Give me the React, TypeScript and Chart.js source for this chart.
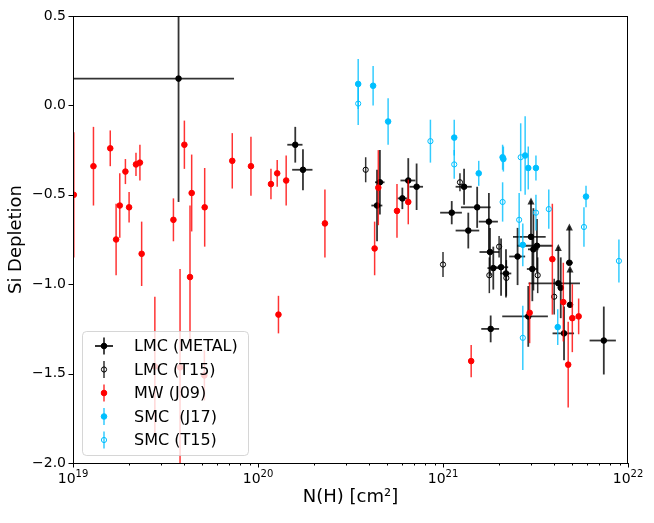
import { useEffect, useRef } from "react";
import { Chart, registerables } from "chart.js";

Chart.register(...registerables);

// N(H) in cm^-2, Si depletion (dex), symmetric errors
const LMC_X = [3.72e19, 1.59e20, 1.75e20, 4.56e20, 4.4e20, 6.03e20, 6.49e20, 7.2e20, 1.3e21, 1.115e21, 1.53e21, 1.77e21, 1.37e21, 1.795e21, 1.87e21, 2.06e21, 2.19e21, 2.53e21, 2.99e21, 3.08e21, 3.22e21, 3.04e21, 4.2e21, 4.33e21, 4.82e21, 4.86e21, 4.51e21, 2.89e21, 1.81e21, 7.4e21];
const LMC_Y = [0.15, -0.22, -0.36, -0.43, -0.56, -0.52, -0.42, -0.455, -0.455, -0.6, -0.57, -0.65, -0.7, -0.82, -0.91, -0.905, -0.94, -0.845, -0.735, -0.805, -0.785, -0.915, -0.995, -1.02, -0.88, -1.115, -1.275, -1.18, -1.25, -1.315];
const LMC_YERR = [0.69, 0.1, 0.115, 0.18, 0.2, 0.06, 0.125, 0.13, 0.1, 0.065, 0.115, 0.16, 0.1, 0.135, 0.12, 0.16, 0.135, 0.16, 0.22, 0.23, 0.15, 0.18, 0.22, 0.17, 0.22, 0.22, 0.15, 0.17, 0.075, 0.19];
const LMC_XERR = [3.7e19, 0.15e20, 0.22e20, 0.27e20, 0.3e20, 0.35e20, 0.6e20, 0.6e20, 0.13e21, 0.15e21, 0.28e21, 0.21e21, 0.2e21, 0.22e21, 0.13e21, 0.19e21, 0.15e21, 0.25e21, 0.6e21, 0.2e21, 0.7e21, 0.2e21, 1.3e21, 0.15e21, 0.2e21, 0.1e21, 0.6e21, 0.8e21, 0.2e21, 1.2e21];
// 1 = lower limit (arrow up)
const LMC_LIM = [0, 0, 0, 0, 0, 0, 0, 0, 0, 0, 0, 0, 0, 0, 0, 0, 0, 0, 1, 0, 0, 0, 1, 0, 1, 1, 0, 0, 0, 0];

const LMCT_X = [3.82e20, 1.235e21, 1.0e21, 2.01e21, 1.78e21, 2.2e21, 3.25e21, 3.99e21];
const LMCT_Y = [-0.36, -0.43, -0.89, -0.79, -0.95, -0.965, -0.95, -1.07];
const LMCT_YERR = [0.07, 0.05, 0.07, 0.06, 0.1, 0.1, 0.1, 0.1];

const MW_X = [1.01e19, 1.29e19, 1.59e19, 1.71e19, 1.79e19, 1.92e19, 2.01e19, 2.19e19, 2.3e19, 2.35e19, 3.49e19, 4.0e19, 4.38e19, 4.29e19, 5.15e19, 7.26e19, 9.16e19, 1.175e20, 1.27e20, 1.42e20, 2.3e20, 1.29e20, 3.79e19, 5.13e19, 2.77e19, 4.47e20, 4.27e20, 5.64e20, 6.49e20, 3.9e21, 1.42e21, 2.94e21, 4.47e21, 5.0e21, 5.41e21, 4.75e21];
const MW_Y = [-0.5, -0.34, -0.24, -0.75, -0.56, -0.37, -0.57, -0.33, -0.32, -0.83, -0.64, -0.22, -0.49, -0.96, -0.57, -0.31, -0.34, -0.44, -0.38, -0.42, -0.66, -1.17, -1.465, -1.51, -1.46, -0.46, -0.8, -0.59, -0.54, -0.86, -1.43, -1.16, -1.1, -1.19, -1.18, -1.45];
const MW_YERR = [0.35, 0.22, 0.1, 0.2, 0.18, 0.07, 0.085, 0.065, 0.1, 0.18, 0.12, 0.135, 0.215, 0.4, 0.22, 0.155, 0.165, 0.085, 0.075, 0.14, 0.19, 0.105, 0.55, 0.14, 0.39, 0.21, 0.15, 0.15, 0.125, 0.31, 0.09, 0.17, 0.22, 0.19, 0.1, 0.24];

const SMC_X = [3.48e20, 4.19e20, 5.05e20, 1.15e21, 1.56e21, 2.1e21, 2.12e21, 2.78e21, 2.89e21, 3.18e21, 5.93e21, 2.7e21, 4.17e21];
const SMC_Y = [0.12, 0.11, -0.09, -0.18, -0.38, -0.29, -0.3, -0.28, -0.35, -0.35, -0.51, -0.78, -1.24];
const SMC_YERR = [0.14, 0.11, 0.13, 0.1, 0.07, 0.07, 0.07, 0.22, 0.12, 0.07, 0.06, 0.12, 0.1];

const SMCT_X = [3.48e20, 8.55e20, 1.15e21, 2.1e21, 2.58e21, 2.63e21, 3.18e21, 3.73e21, 5.78e21, 8.93e21, 2.7e21];
const SMCT_Y = [0.01, -0.2, -0.33, -0.54, -0.64, -0.29, -0.6, -0.58, -0.68, -0.87, -1.3];
const SMCT_YERR = [0.12, 0.12, 0.08, 0.11, 0.15, 0.19, 0.1, 0.11, 0.11, 0.12, 0.18];

const DECADES = [19, 20, 21, 22];

const FONT = "DejaVu Sans";

function points(xs: number[], ys: number[], yErr: number[], xErr?: number[], lim?: number[]) {
  return xs.map((x, i) => ({ x, y: ys[i], yErr: yErr[i], xErr: xErr ? xErr[i] : 0, lim: lim ? lim[i] : 0 }));
}

function isDecade(v: number) {
  const e = Math.round(Math.log10(v));
  return Math.abs(v / Math.pow(10, e) - 1) < 1e-6;
}

const xTicks: number[] = [];
DECADES.forEach((e, i) => {
  if (i === DECADES.length - 1) xTicks.push(Math.pow(10, e));
  else for (let m = 1; m < 10; m++) xTicks.push(m * Math.pow(10, e));
});

const errorBars = {
  id: "errorBars",
  beforeDatasetDraw(chart: any, args: any) {
    const ds = chart.data.datasets[args.index];
    const xs = chart.scales.x;
    const ys = chart.scales.y;
    const { ctx, chartArea: a } = chart;
    ctx.save();
    ctx.beginPath();
    ctx.rect(a.left, a.top, a.right - a.left, a.bottom - a.top);
    ctx.clip();
    ctx.strokeStyle = ds.errColor;
    ctx.fillStyle = ds.errColor;
    ctx.lineWidth = ds.errWidth;
    for (const p of ds.data) {
      const px = xs.getPixelForValue(p.x);
      const py = ys.getPixelForValue(p.y);
      if (p.lim) {
        const ty = ys.getPixelForValue(p.y + p.yErr);
        ctx.beginPath();
        ctx.moveTo(px, py);
        ctx.lineTo(px, ty + 3);
        ctx.stroke();
        ctx.beginPath();
        ctx.moveTo(px, ty);
        ctx.lineTo(px - 3.5, ty + 7);
        ctx.lineTo(px + 3.5, ty + 7);
        ctx.closePath();
        ctx.fill();
      } else if (p.yErr) {
        ctx.beginPath();
        ctx.moveTo(px, ys.getPixelForValue(p.y - p.yErr));
        ctx.lineTo(px, ys.getPixelForValue(p.y + p.yErr));
        ctx.stroke();
      }
      if (p.xErr) {
        ctx.beginPath();
        ctx.moveTo(xs.getPixelForValue(Math.max(p.x - p.xErr, 1e17)), py);
        ctx.lineTo(xs.getPixelForValue(p.x + p.xErr), py);
        ctx.stroke();
      }
    }
    ctx.restore();
  },
};

const frameAndLegend = {
  id: "frameAndLegend",
  afterDraw(chart: any) {
    const { ctx, chartArea: a } = chart;
    const xs = chart.scales.x;
    const ys = chart.scales.y;
    ctx.save();
    ctx.strokeStyle = "#000";
    ctx.lineWidth = 1;
    ctx.strokeRect(a.left + 0.5, a.top + 0.5, a.right - a.left - 1, a.bottom - a.top);
    ctx.beginPath();
    for (const t of xs.ticks) {
      const px = Math.round(xs.getPixelForValue(t.value)) + 0.5;
      ctx.moveTo(px, a.bottom);
      ctx.lineTo(px, a.bottom + (isDecade(t.value) ? 4.5 : 2.5));
    }
    for (const t of ys.ticks) {
      const py = Math.round(ys.getPixelForValue(t.value)) + 0.5;
      ctx.moveTo(a.left, py);
      ctx.lineTo(a.left - 4.5, py);
    }
    ctx.stroke();

    // decade labels as 10 with a raised exponent
    ctx.fillStyle = "#000";
    ctx.textBaseline = "alphabetic";
    ctx.textAlign = "left";
    for (const t of xs.ticks) {
      if (!isDecade(t.value)) continue;
      const exp = String(Math.round(Math.log10(t.value)));
      ctx.font = `14px "${FONT}"`;
      const wBase = ctx.measureText("10").width;
      ctx.font = `10px "${FONT}"`;
      const wExp = ctx.measureText(exp).width;
      const left = xs.getPixelForValue(t.value) - (wBase + wExp) / 2;
      const base = a.bottom + 19.5;
      ctx.font = `14px "${FONT}"`;
      ctx.fillText("10", left, base);
      ctx.font = `10px "${FONT}"`;
      ctx.fillText(exp, left + wBase, base - 6);
    }

    // legend
    const bx = a.left + 9;
    const bw = 166;
    const bh = 124;
    const by = a.bottom - 8 - bh;
    ctx.beginPath();
    ctx.roundRect(bx + 0.5, by + 0.5, bw, bh, 4);
    ctx.fillStyle = "rgba(255,255,255,0.8)";
    ctx.fill();
    ctx.strokeStyle = "rgba(204,204,204,0.8)";
    ctx.stroke();
    ctx.font = `16px "${FONT}"`;
    ctx.textBaseline = "middle";
    chart.data.datasets.forEach((ds: any, i: number) => {
      const cy = by + 15 + i * 23.5;
      const cx = bx + 22;
      ctx.strokeStyle = ds.errColor;
      ctx.lineWidth = ds.errWidth;
      ctx.beginPath();
      ctx.moveTo(cx, cy - 8.5);
      ctx.lineTo(cx, cy + 8.5);
      if (ds.legendX) {
        ctx.moveTo(cx - 9, cy);
        ctx.lineTo(cx + 9, cy);
      }
      ctx.stroke();
      ctx.beginPath();
      ctx.arc(cx, cy, ds.pointRadius, 0, Math.PI * 2);
      if (ds.pointBackgroundColor !== "rgba(0,0,0,0)") {
        ctx.fillStyle = ds.pointBackgroundColor;
        ctx.fill();
      }
      ctx.strokeStyle = ds.pointBorderColor;
      ctx.lineWidth = 1;
      ctx.stroke();
      ctx.fillStyle = "#000";
      ctx.fillText(ds.label, bx + 52, cy + 1);
    });
    ctx.restore();
  },
};

function series(label: string, data: any[], color: string, err: string, filled: boolean, order: number, errWidth = 1.5, legendX = false) {
  return {
    label,
    data,
    order,
    errColor: err,
    errWidth,
    legendX,
    pointRadius: filled ? 2.8 : 2.6,
    pointHoverRadius: 2.8,
    pointBorderWidth: 1,
    pointBorderColor: color,
    pointBackgroundColor: filled ? color : "rgba(0,0,0,0)",
    showLine: false,
  };
}

export default function App() {
  const canvasRef = useRef<HTMLCanvasElement>(null);

  useEffect(() => {
    if (!canvasRef.current) return;
    Chart.defaults.font.family = FONT;
    Chart.defaults.color = "#000";
    const chart = new Chart(canvasRef.current, {
      type: "scatter",
      data: {
        datasets: [
          series("LMC (METAL)", points(LMC_X, LMC_Y, LMC_YERR, LMC_XERR, LMC_LIM), "#000", "rgba(0,0,0,0.8)", true, 4, 1.8, true),
          series("LMC (T15)", points(LMCT_X, LMCT_Y, LMCT_YERR), "#000", "rgba(0,0,0,0.8)", false, 3),
          series("MW (J09)", points(MW_X, MW_Y, MW_YERR), "#ff0000", "rgba(255,0,0,0.8)", true, 2),
          series("SMC  (J17)", points(SMC_X, SMC_Y, SMC_YERR), "#00bfff", "rgba(0,191,255,0.8)", true, 1),
          series("SMC (T15)", points(SMCT_X, SMCT_Y, SMCT_YERR), "#00bfff", "rgba(0,191,255,0.8)", false, 0),
        ] as any,
      },
      options: {
        animation: false,
        responsive: true,
        maintainAspectRatio: false,
        layout: { padding: { left: 0, top: 16, right: 26, bottom: 0 } },
        plugins: { legend: { display: false }, tooltip: { enabled: false } },
        scales: {
          x: {
            type: "logarithmic",
            min: 1e19,
            max: 1e22,
            afterBuildTicks: (scale: any) => {
              scale.ticks = xTicks.map((v) => ({ value: v, major: isDecade(v) }));
            },
            afterFit: (scale: any) => {
              scale.height = 60;
            },
            grid: { display: false, drawTicks: true, tickLength: 4 },
            border: { display: false },
            ticks: { display: false, autoSkip: false, maxRotation: 0 },
            title: { display: true, text: "N(H) [cm²]", font: { size: 18 }, padding: { top: 0, bottom: 15 } },
          },
          y: {
            min: -2,
            max: 0.5,
            afterFit: (scale: any) => {
              scale.width = 73;
            },
            grid: { display: false, drawTicks: true, tickLength: 4 },
            border: { display: false },
            ticks: {
              stepSize: 0.5,
              padding: 3,
              font: { size: 14 },
              callback: (v: any) => Number(v).toFixed(1).replace("-", "−"),
            },
            title: { display: true, text: "Si Depletion", font: { size: 18 }, padding: { top: 6, bottom: 0 } },
          },
        },
      },
      plugins: [errorBars, frameAndLegend],
    });
    return () => chart.destroy();
  }, []);

  return (
    <div style={{ position: "fixed", left: 0, top: 0, width: 654, height: 523, background: "#fff" }}>
      <canvas ref={canvasRef} />
    </div>
  );
}
